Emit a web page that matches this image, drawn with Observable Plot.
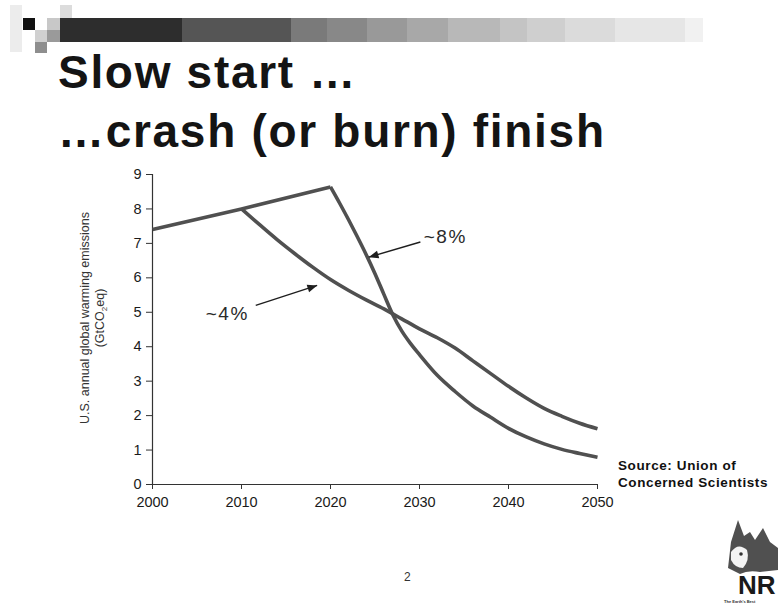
<!DOCTYPE html>
<html>
<head>
<meta charset="utf-8">
<script src="https://cdn.jsdelivr.net/npm/d3@7"></script>
<script src="https://cdn.jsdelivr.net/npm/@observablehq/plot@0.6"></script>
<style>
  html, body { margin: 0; padding: 0; background: #fff; }
  #slide { position: relative; width: 778px; height: 605px; overflow: hidden; font-family: "Liberation Sans", Arial, sans-serif; color: #111; }
  .deco { position: absolute; }
  #title { position: absolute; left: 58px; top: 43px; font-weight: bold; font-size: 46px; line-height: 59px; letter-spacing: 1.7px; color: #141414; }
  #chart { position: absolute; left: 0; top: 160px; }
  #ytitle { position: absolute; left: 95px; top: 318px; width: 320px; transform: translate(-50%, -50%) rotate(-90deg); text-align: center; font-size: 12.5px; line-height: 15px; color: #333; white-space: nowrap; }
  #source { position: absolute; left: 618px; top: 457px; font-weight: bold; font-size: 13.5px; line-height: 17px; letter-spacing: 0.6px; color: #111; white-space: nowrap; }
  #page { position: absolute; left: 404px; top: 570px; font-size: 12px; color: #333; }
  #logo { position: absolute; left: 700px; top: 500px; }
</style>
</head>
<body>
<div id="slide">
  <div id="title">Slow start …<br>…crash (or burn) finish</div>
  <div id="chart"></div>
  <div id="ytitle">U.S. annual global warming emissions<br>(GtCO<sub style="font-size:8px">2</sub>eq)</div>
  <div id="source">Source: Union of<br>Concerned Scientists</div>
  <div id="page">2</div>
  <svg id="logo" width="78" height="105" viewBox="0 0 78 105">
    <path d="M28,68 L31,42 L38,20 L44,36 L50,32 L55,40 L63,28 L70,42 L78,48 L78,70 L60,72 Q48,70 40,74 Z" fill="#505050"/>
    <path d="M31,52 Q38,42 47,50 Q50,60 43,68 Q35,68 31,60 Z" fill="#f4f4f4"/>
    <circle cx="41" cy="54" r="1.8" fill="#333"/>
    <text x="38" y="94" font-family="Liberation Sans, Arial" font-weight="bold" font-size="26" fill="#1a1a1a">NR</text>
    <text x="24" y="103" font-family="Liberation Sans, Arial" font-weight="bold" font-size="4" fill="#333">The Earth's Best</text>
  </svg>
</div>
<script>
// Emissions history up to the decision point, shared by both paths (GtCO2eq)
const baseYears  = [2000, 2010, 2020];
const baseValues = [7.40, 8.00, 8.64];

// Early action: cuts of about 4% a year starting in 2010
const years4  = [2010, 2012, 2014, 2016, 2018, 2020, 2022, 2024, 2026, 2028, 2030, 2032, 2034, 2036, 2038, 2040, 2042, 2044, 2046, 2048, 2050];
const values4 = [8.00, 7.55, 7.11, 6.70, 6.31, 5.95, 5.64, 5.36, 5.10, 4.81, 4.52, 4.26, 3.96, 3.59, 3.22, 2.85, 2.51, 2.21, 1.98, 1.78, 1.62];

// Delayed action: cuts of about 8% a year starting in 2020
const years8  = [2020, 2021, 2022, 2023, 2024, 2025, 2026, 2027, 2028, 2029, 2030, 2032, 2034, 2036, 2038, 2040, 2042, 2044, 2046, 2048, 2050];
const values8 = [8.64, 8.18, 7.70, 7.20, 6.68, 6.12, 5.52, 4.93, 4.46, 4.09, 3.77, 3.17, 2.70, 2.28, 1.95, 1.63, 1.38, 1.18, 1.02, 0.90, 0.79];

// Axis ticks
const xTicks = [2000, 2010, 2020, 2030, 2040, 2050];
const yTicks = [0, 1, 2, 3, 4, 5, 6, 7, 8, 9];

// Callouts: label position and arrow from the label to its curve
const noteLabels = ["~8%", "~4%"];
const noteX  = [2032.9, 2008.4];
const noteY  = [7.19, 4.96];
const arrowX1 = [2030.1, 2011.6];
const arrowY1 = [7.04, 5.20];
const arrowX2 = [2024.3, 2018.5];
const arrowY2 = [6.60, 5.78];

const base = baseYears.map((year, i) => ({year, value: baseValues[i]}));
const path4 = years4.map((year, i) => ({year, value: values4[i]}));
const path8 = years8.map((year, i) => ({year, value: values8[i]}));
const notes = noteLabels.map((label, i) => ({
  label, x: noteX[i], y: noteY[i],
  x1: arrowX1[i], y1: arrowY1[i], x2: arrowX2[i], y2: arrowY2[i]
}));

const lineStyle = {x: "year", y: "value", stroke: "#505050", strokeWidth: 3.6, strokeLinejoin: "round", strokeLinecap: "butt"};

const chart = Plot.plot({
  width: 620,
  height: 360,
  marginLeft: 152,
  marginRight: 23,
  marginTop: 14,
  marginBottom: 36,
  style: {fontFamily: "Liberation Sans, Arial, sans-serif", background: "transparent", color: "#1a1a1a"},
  x: {domain: [2000, 2050]},
  y: {domain: [0, 9]},
  marks: [
    Plot.axisY({ticks: yTicks, tickSize: 6, tickPadding: 5, fontSize: 14.5, label: null, stroke: "#333"}),
    Plot.axisX({ticks: xTicks, tickSize: 5, tickPadding: 7, fontSize: 14.5, tickFormat: d => String(d), label: null, stroke: "#333"}),
    Plot.ruleX([2000], {y1: 0, y2: 9, stroke: "#333", strokeWidth: 1.2}),
    Plot.ruleY([0], {x1: 2000, x2: 2050, stroke: "#333", strokeWidth: 1.2}),
    Plot.line(path4, {...lineStyle, curve: "monotone-x"}),
    Plot.line(path8, {...lineStyle, curve: "monotone-x"}),
    Plot.line(base, lineStyle),
    Plot.link(notes, {x1: "x1", y1: "y1", x2: "x2", y2: "y2", stroke: "#1e1e1e", strokeWidth: 1.4, markerEnd: "arrow"}),
    Plot.text(notes, {x: "x", y: "y", text: "label", fontSize: 19, fill: "#2a2a2a", textAnchor: "middle"})
  ]
});

// Solid arrowheads for the callouts
chart.querySelectorAll("marker").forEach(m => {
  m.setAttribute("viewBox", "-10 -5 11 10");
  m.setAttribute("markerWidth", "8.5");
  m.setAttribute("markerHeight", "8.5");
  m.setAttribute("markerUnits", "strokeWidth");
  m.innerHTML = '<path d="M-9,-3.6L0,0L-9,3.6Z" fill="#1e1e1e" stroke="none"/>';
});
// Letter-spacing for the callout labels
chart.querySelectorAll("text").forEach(t => {
  if (noteLabels.includes(t.textContent)) t.setAttribute("letter-spacing", "1.5");
});
document.getElementById("chart").appendChild(chart);

// Header strip of grey squares
const strip = [
  [60, 122, "#2d2d2d"], [182, 109, "#555"], [291, 36, "#7a7a7a"], [327, 40, "#888"],
  [367, 40, "#999"], [407, 41, "#a8a8a8"], [448, 52, "#b8b8b8"], [500, 27, "#c4c4c4"],
  [527, 38, "#cfcfcf"], [565, 50, "#dbdbdb"], [615, 70, "#e6e6e6"], [685, 18, "#f1f1f1"]
];
const squares = [
  [10, 5, 12, 47, "#ececec"], [23, 18, 12, 12, "#111"], [47, 18, 13, 12, "#c8c8c8"],
  [60, 5, 12, 13, "#dcdcdc"], [35, 30, 12, 12, "#d0d0d0"], [47, 30, 13, 12, "#9a9a9a"],
  [35, 42, 12, 11, "#8e8e8e"]
];
const slide = document.getElementById("slide");
strip.forEach(([x, w, c]) => {
  const d = document.createElement("div");
  d.className = "deco";
  Object.assign(d.style, {left: x + "px", top: "18px", width: w + "px", height: "24px", background: c});
  slide.appendChild(d);
});
squares.forEach(([x, y, w, h, c]) => {
  const d = document.createElement("div");
  d.className = "deco";
  Object.assign(d.style, {left: x + "px", top: y + "px", width: w + "px", height: h + "px", background: c});
  slide.appendChild(d);
});
</script>
</body>
</html>
